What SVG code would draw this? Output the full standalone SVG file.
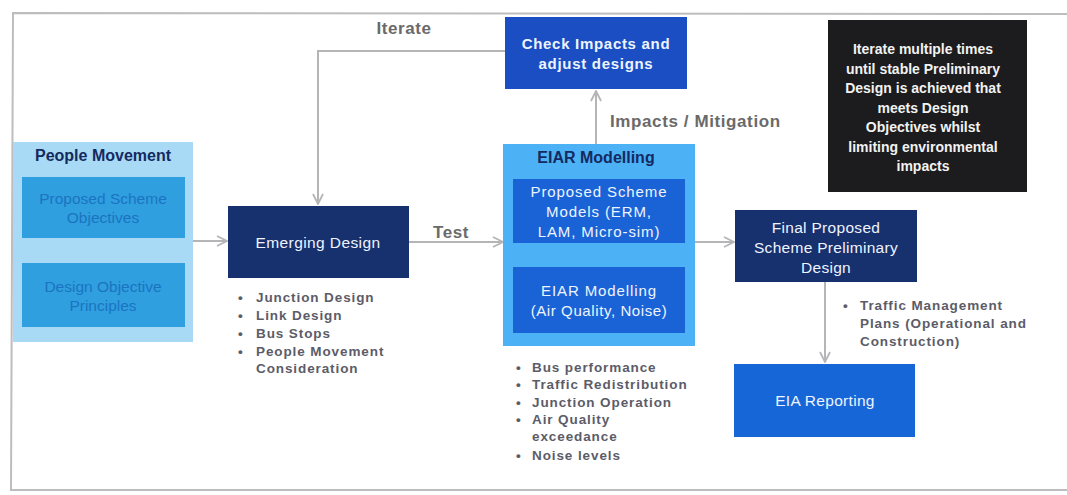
<svg xmlns="http://www.w3.org/2000/svg" width="1067" height="495" viewBox="0 0 1067 495">
<style>
  text { font-family: "Liberation Sans", Arial, sans-serif; }
  .lbl { font-size: 17px; font-weight: bold; fill: #6a6a6a; letter-spacing: 0.6px; }
  .bul { font-size: 13.5px; font-weight: bold; fill: #5c5c68; letter-spacing: 0.9px; }
  .wt { fill: #eef4ff; text-anchor: middle; }
  .title { font-size: 16px; font-weight: bold; fill: #142a60; text-anchor: middle; }
  .pm { font-size: 15.5px; fill: #1b74c0; text-anchor: middle; }
  .conn { stroke: #b5b5b8; stroke-width: 2; fill: none; }
</style>
<defs>
  <marker id="arr" viewBox="0 0 12 12" refX="11" refY="6" markerWidth="12" markerHeight="12" markerUnits="userSpaceOnUse" orient="auto">
    <path d="M1,1 L11,6 L1,11" fill="none" stroke="#b5b5b8" stroke-width="1.8"/>
  </marker>
</defs>
<rect width="1067" height="495" fill="#ffffff"/>
<g id="frame" stroke="#bdbdc0" stroke-width="2" fill="none">
  <path d="M1067,14 L13,13 L11,490 L1067,490"/>
</g>

<g id="connectors">
  <line class="conn" x1="193" y1="241" x2="227" y2="241" marker-end="url(#arr)"/>
  <line class="conn" x1="409" y1="242" x2="503" y2="242" marker-end="url(#arr)"/>
  <line class="conn" x1="596" y1="145" x2="596" y2="91" marker-end="url(#arr)"/>
  <polyline class="conn" points="506,51 318,51 318,204" marker-end="url(#arr)"/>
  <line class="conn" x1="695" y1="242" x2="734" y2="242" marker-end="url(#arr)"/>
  <line class="conn" x1="825" y1="282" x2="825" y2="362" marker-end="url(#arr)"/>
  <text class="lbl" x="404" y="34" text-anchor="middle">Iterate</text>
  <text class="lbl" x="451" y="238" text-anchor="middle">Test</text>
  <text class="lbl" x="610" y="127" letter-spacing="1.4">Impacts / Mitigation</text>
</g>

<g id="people-movement">
  <rect x="13" y="142" width="180" height="200" fill="#a8daf6"/>
  <text class="title" x="103" y="161">People Movement</text>
  <rect x="22" y="177" width="163" height="61" fill="#2f9fe0"/>
  <text class="pm" x="103" y="204">Proposed Scheme</text>
  <text class="pm" x="103" y="223">Objectives</text>
  <rect x="22" y="263" width="163" height="64" fill="#2f9fe0"/>
  <text class="pm" x="103" y="292">Design Objective</text>
  <text class="pm" x="103" y="311">Principles</text>
</g>

<g id="emerging-design">
  <rect x="228" y="206" width="181" height="72" fill="#17306e"/>
  <text class="wt" x="318" y="248" font-size="15.5" letter-spacing="0.4">Emerging Design</text>
  <text class="bul" x="238" y="302">•</text><text class="bul" x="256" y="302">Junction Design</text>
  <text class="bul" x="238" y="320">•</text><text class="bul" x="256" y="320">Link Design</text>
  <text class="bul" x="238" y="338">•</text><text class="bul" x="256" y="338">Bus Stops</text>
  <text class="bul" x="238" y="356">•</text><text class="bul" x="256" y="356">People Movement</text>
  <text class="bul" x="256" y="373">Consideration</text>
</g>

<g id="check-impacts">
  <rect x="505" y="17" width="182" height="72" fill="#1a4ec2"/>
  <text class="wt" x="596" y="49" font-size="15" font-weight="bold" letter-spacing="0.7">Check Impacts and</text>
  <text class="wt" x="596" y="69" font-size="15" font-weight="bold" letter-spacing="0.7">adjust designs</text>
</g>

<g id="eiar-modelling">
  <rect x="503" y="144" width="192" height="202" fill="#4cb1f5"/>
  <text class="title" x="596" y="163">EIAR Modelling</text>
  <rect x="513" y="179" width="172" height="64" fill="#1a63d6"/>
  <text class="wt" x="599" y="197" font-size="15" letter-spacing="0.9">Proposed Scheme</text>
  <text class="wt" x="599" y="217" font-size="15" letter-spacing="0.9">Models (ERM,</text>
  <text class="wt" x="599" y="237" font-size="15" letter-spacing="0.9">LAM, Micro-sim)</text>
  <rect x="513" y="267" width="172" height="66" fill="#1a63d6"/>
  <text class="wt" x="599" y="296" font-size="15" letter-spacing="0.9">EIAR Modelling</text>
  <text class="wt" x="599" y="316" font-size="15" letter-spacing="0.6">(Air Quality, Noise)</text>
  <text class="bul" x="516" y="372">•</text><text class="bul" x="532" y="372">Bus performance</text>
  <text class="bul" x="516" y="389">•</text><text class="bul" x="532" y="389">Traffic Redistribution</text>
  <text class="bul" x="516" y="407">•</text><text class="bul" x="532" y="407">Junction Operation</text>
  <text class="bul" x="516" y="424">•</text><text class="bul" x="532" y="424">Air Quality</text>
  <text class="bul" x="532" y="441">exceedance</text>
  <text class="bul" x="516" y="460">•</text><text class="bul" x="532" y="460">Noise levels</text>
</g>

<g id="final-design">
  <rect x="735" y="210" width="182" height="72" fill="#17306e"/>
  <text class="wt" x="826" y="233" font-size="15.5" letter-spacing="0.3">Final Proposed</text>
  <text class="wt" x="826" y="253" font-size="15.5" letter-spacing="0.3">Scheme Preliminary</text>
  <text class="wt" x="826" y="273" font-size="15.5" letter-spacing="0.3">Design</text>
  <text class="bul" x="843" y="310">•</text><text class="bul" x="860" y="310">Traffic Management</text>
  <text class="bul" x="860" y="328">Plans (Operational and</text>
  <text class="bul" x="860" y="346">Construction)</text>
</g>

<g id="eia-reporting">
  <rect x="734" y="364" width="181" height="73" fill="#1766d8"/>
  <text class="wt" x="825" y="406" font-size="15.5" letter-spacing="0.3">EIA Reporting</text>
</g>

<g id="note">
  <rect x="828" y="20" width="199" height="172" fill="#1c1c1e"/>
  <g font-size="14" font-weight="bold" fill="#f2f2f2" text-anchor="middle">
    <text x="923" y="54">Iterate  multiple times</text>
    <text x="923" y="74">until stable Preliminary</text>
    <text x="923" y="93">Design is achieved that</text>
    <text x="923" y="113">meets Design</text>
    <text x="923" y="132">Objectives whilst</text>
    <text x="923" y="152">limiting environmental</text>
    <text x="923" y="171">impacts</text>
  </g>
</g>
</svg>
